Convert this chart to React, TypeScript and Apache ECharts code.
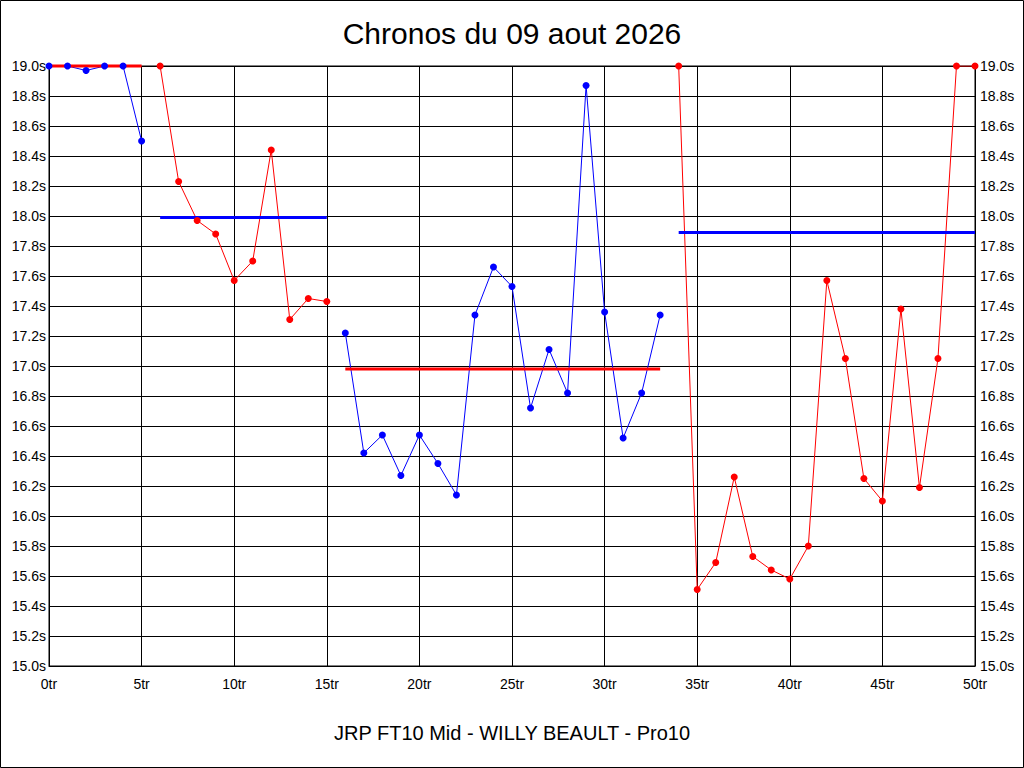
import React, { useEffect, useRef } from "react";
import * as echarts from "echarts";

const TITLE = "Chronos du 09 aout 2026";
const FOOTER = "JRP FT10 Mid - WILLY BEAULT - Pro10";

// Lap numbers where each run starts
const segmentStarts = [0, 6, 16, 34];
// Lap times (s) for each run
const run1Times = [19.0, 19.0, 18.97, 19.0, 19.0, 18.5];
const run2Times = [19.0, 18.23, 17.97, 17.88, 17.57, 17.7, 18.44, 17.31, 17.45, 17.43];
const run3Times = [
  17.22, 16.42, 16.54, 16.27, 16.54, 16.35, 16.14, 17.34, 17.66, 17.53, 16.72, 17.11, 16.82,
  18.87, 17.36, 16.52, 16.82, 17.34,
];
const run4Times = [
  19.0, 15.51, 15.69, 16.26, 15.73, 15.64, 15.58, 15.8, 17.57, 17.05, 16.25, 16.1, 17.38, 16.19,
  17.05, 19.0, 19.0,
];
// Average of each run (s)
const runAverages = [19.0, 17.99, 16.98, 17.89];
// Colours of each run line and its average line
const runColors = ["#0000ff", "#ff0000", "#0000ff", "#ff0000"];
const avgColors = ["#ff0000", "#0000ff", "#ff0000", "#0000ff"];

const runs = [run1Times, run2Times, run3Times, run4Times];

const FONT = "'Liberation Sans', Arial, sans-serif";

export default function App() {
  const ref = useRef<HTMLDivElement>(null);

  useEffect(() => {
    document.body.style.margin = "0";
    if (!ref.current) return;
    const chart = echarts.init(ref.current, undefined, { renderer: "svg" });

    const series: any[] = [];
    runs.forEach((times, i) => {
      const start = segmentStarts[i];
      const data = times.map((t, k) => [start + k, t]);
      series.push({
        type: "line",
        data,
        yAxisIndex: 0,
        showSymbol: false,
        lineStyle: { color: runColors[i], width: 1 },
        itemStyle: { color: runColors[i] },
        z: 2,
        clip: true,
      });
    });
    runs.forEach((times, i) => {
      const start = segmentStarts[i];
      series.push({
        type: "line",
        data: [
          [start, runAverages[i]],
          [start + times.length - 1, runAverages[i]],
        ],
        yAxisIndex: 0,
        showSymbol: false,
        lineStyle: { color: avgColors[i], width: 3 },
        z: 3,
        clip: false,
      });
    });
    runs.forEach((times, i) => {
      const start = segmentStarts[i];
      series.push({
        type: "scatter",
        data: times.map((t, k) => [start + k, t]),
        yAxisIndex: 0,
        symbol: "circle",
        symbolSize: 7,
        itemStyle: { color: runColors[i], opacity: 1 },
        z: 4,
        clip: false,
      });
    });

    const yAxisBase = {
      type: "value",
      min: 15,
      max: 19,
      interval: 0.2,
      axisTick: { show: false },
      axisLine: { show: true, lineStyle: { color: "#000", width: 1 } },
      axisLabel: {
        color: "#000",
        fontFamily: FONT,
        fontSize: 14,
        formatter: (v: number) => v.toFixed(1) + "s",
      },
    };

    chart.setOption({
      animation: false,
      backgroundColor: "#fff",
      grid: {
        left: 49,
        right: 49,
        top: 66,
        bottom: 102,
        show: true,
        borderColor: "#000",
        borderWidth: 1,
      },
      xAxis: {
        type: "value",
        min: 0,
        max: 50,
        interval: 5,
        axisTick: { show: false },
        axisLine: { show: true, lineStyle: { color: "#000", width: 1 } },
        splitLine: { show: true, lineStyle: { color: "#000", width: 1 } },
        axisLabel: {
          color: "#000",
          fontFamily: FONT,
          fontSize: 14,
          margin: 11,
          formatter: (v: number) => v + "tr",
        },
      },
      yAxis: [
        {
          ...yAxisBase,
          position: "left",
          splitLine: { show: true, lineStyle: { color: "#000", width: 1 } },
          axisLabel: { ...yAxisBase.axisLabel, margin: 3 },
        },
        {
          ...yAxisBase,
          position: "right",
          splitLine: { show: false },
          axisLabel: { ...yAxisBase.axisLabel, margin: 5 },
        },
      ],
      graphic: [
        {
          type: "rect",
          shape: { x: 0.5, y: 0.5, width: 1023, height: 767 },
          style: { fill: "none", stroke: "#000", lineWidth: 1 },
          silent: true,
          z: 10,
        },
        {
          type: "text",
          x: 512,
          y: 33,
          style: {
            text: TITLE,
            fill: "#000",
            font: `30px ${FONT}`,
            textAlign: "center",
            textVerticalAlign: "middle",
          },
        },
        {
          type: "text",
          x: 512,
          y: 733,
          style: {
            text: FOOTER,
            fill: "#000",
            font: `20px ${FONT}`,
            textAlign: "center",
            textVerticalAlign: "middle",
          },
        },
      ],
      series,
    });

    return () => chart.dispose();
  }, []);

  return <div ref={ref} style={{ width: 1024, height: 768 }} />;
}
